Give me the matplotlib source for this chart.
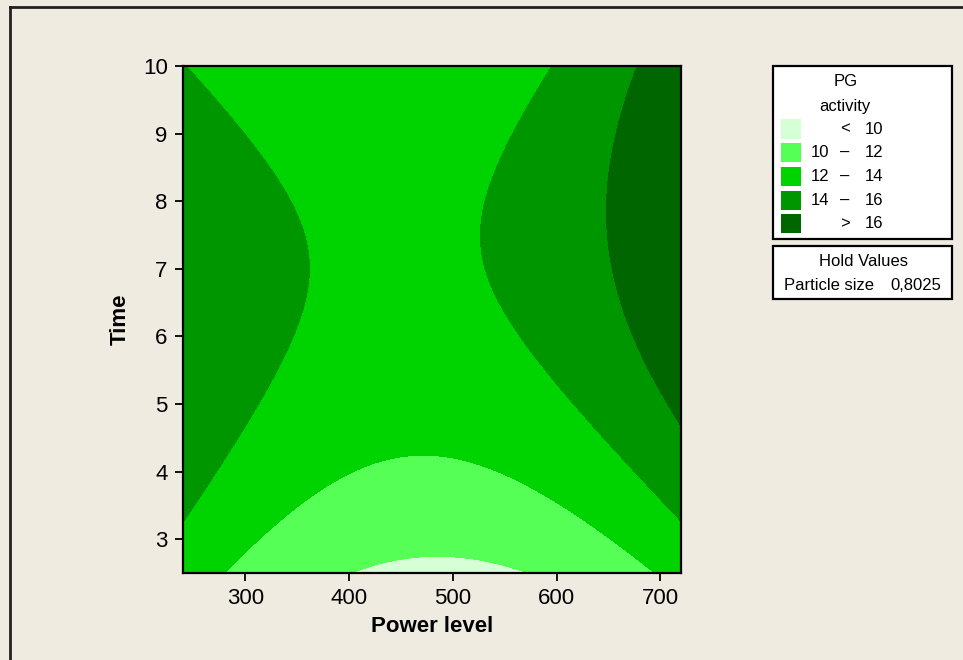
import matplotlib
matplotlib.use("Agg")
import matplotlib.pyplot as plt
import numpy as np
from matplotlib.patches import Rectangle
from matplotlib.lines import Line2D

plt.rcParams['font.family'] = ['Liberation Sans', 'DejaVu Sans']

# fitted response surface for PG activity (power level x, time y)
coef_names = ['const', 'power', 'time', 'power^2', 'time^2', 'power*time']
coef_values = [18.817, -0.05712, 2.0639, 5.6e-5, -0.1735, 0.0010158]

power_range = [240, 720]
time_range = [2.5, 10]
levels = [10, 12, 14, 16]
level_colors = ['#d5ffd5', '#55ff55', '#00d400', '#009600', '#006600']
legend_left = ['', '10', '12', '14', '']
legend_mid = ['<', '\u2013', '\u2013', '\u2013', '>']
legend_right = ['10', '12', '14', '16', '16']
hold_name = 'Particle size'
hold_value = '0,8025'
bg = '#efebe1'

c = dict(zip(coef_names, coef_values))
px = np.linspace(power_range[0], power_range[1], 400)
ty = np.linspace(time_range[0], time_range[1], 400)
X, Y = np.meshgrid(px, ty)
Z = (c['const'] + c['power'] * X + c['time'] * Y + c['power^2'] * X**2
     + c['time^2'] * Y**2 + c['power*time'] * X * Y)

W, H = 963, 660
fig = plt.figure(figsize=(W / 100, H / 100), dpi=100, facecolor=bg)
fx = lambda p: p / W
fy = lambda p: 1 - p / H

ax = fig.add_axes([fx(183), fy(573), fx(681) - fx(183), fy(66) - fy(573)])
bounds = [Z.min() - 1] + levels + [Z.max() + 1]
ax.contourf(X, Y, Z, levels=bounds, colors=level_colors)
ax.set_xlim(power_range)
ax.set_ylim(time_range)
ax.set_xticks([300, 400, 500, 600, 700])
ax.set_yticks([3, 4, 5, 6, 7, 8, 9, 10])
ax.tick_params(direction='out', length=6, width=1.3, labelsize=16, pad=5)
for s in ax.spines.values():
    s.set_linewidth(1.6)
ax.set_xlabel('Power level', fontsize=16, fontweight='bold', labelpad=5)
ax.set_ylabel('Time', fontsize=16, fontweight='bold', labelpad=9)

# outer frame
fig.add_artist(Line2D([fx(10), fx(10)], [fy(7), 0], color='#222222', lw=2))
fig.add_artist(Line2D([fx(10), 1], [fy(7), fy(7)], color='#222222', lw=2))

# legend box
def box(x0, y0, x1, y1):
    fig.add_artist(Rectangle((fx(x0), fy(y1)), fx(x1) - fx(x0), fy(y0) - fy(y1),
                             transform=fig.transFigure, facecolor='white',
                             edgecolor='black', lw=1.6))

fs = 12
box(773, 66, 952, 239)
fig.text(fx(846), fy(82), 'PG', fontsize=fs, ha='center', va='center')
fig.text(fx(845), fy(106), 'activity', fontsize=fs, ha='center', va='center')
for i, col in enumerate(level_colors):
    yc = 129 + 23.7 * i
    fig.add_artist(Rectangle((fx(781), fy(yc + 9.5)), fx(20), 19 / H,
                             transform=fig.transFigure, facecolor=col,
                             edgecolor='none'))
    fig.text(fx(829), fy(yc), legend_left[i], fontsize=fs, ha='right', va='center')
    fig.text(fx(845), fy(yc), legend_mid[i], fontsize=fs, ha='center', va='center')
    fig.text(fx(883), fy(yc), legend_right[i], fontsize=fs, ha='right', va='center')

box(773, 246, 952, 299)
fig.text(fx(863), fy(261), 'Hold Values', fontsize=fs, ha='center', va='center')
fig.text(fx(784), fy(285), hold_name, fontsize=fs, ha='left', va='center')
fig.text(fx(941), fy(285), hold_value, fontsize=fs, ha='right', va='center')

fig.savefig('out.png', dpi=100, facecolor=bg)
